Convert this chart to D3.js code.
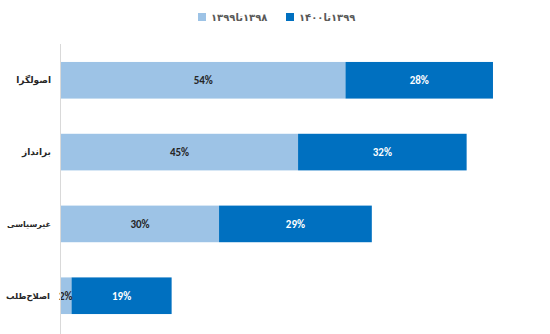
<!DOCTYPE html>
<html>
<head>
<meta charset="utf-8">
<script src="https://cdn.jsdelivr.net/npm/d3@7"></script>
<style>
  html, body { margin: 0; padding: 0; background: #fff; }
  svg { display: block; }
</style>
</head>
<body>
<svg id="chart" width="550" height="334"></svg>
<script>
// Categories (top to bottom) and the two period series, in percent
const categories = ["اصولگرا", "برانداز", "غیرسیاسی", "اصلاح‌طلب"];
const series1398to1399 = [54, 45, 30, 2];
const series1399to1400 = [28, 32, 29, 19];
const seriesNames = ["۱۳۹۸تا۱۳۹۹", "۱۳۹۹تا۱۴۰۰"];
const seriesColors = ["#9DC3E6", "#0070C0"];
const labelColors = ["#262626", "#ffffff"];

const svg = d3.select("#chart");
const W = 550, H = 334;
const margin = { top: 44, right: 20, bottom: 0, left: 61 };

const x = d3.scaleLinear().domain([0, 100]).range([margin.left, margin.left + 526.8]);
const y = d3.scaleBand().domain(categories).range([44, 332]).paddingInner(0.49).paddingOuter(0.25);

const rows = categories.map((c, i) => ({
  cat: c,
  parts: [
    { s: 0, x0: 0, x1: series1398to1399[i], v: series1398to1399[i] },
    { s: 1, x0: series1398to1399[i], x1: series1398to1399[i] + series1399to1400[i], v: series1399to1400[i] }
  ]
}));

const font = "Calibri, Carlito, 'Liberation Sans', 'Noto Sans', sans-serif";

const g = svg.append("g");
const row = g.selectAll("g.row").data(rows).join("g").attr("class", "row");

row.selectAll("rect").data(d => d.parts.map(p => ({ ...p, cat: d.cat }))).join("rect")
  .attr("x", d => x(d.x0))
  .attr("y", d => y(d.cat))
  .attr("width", d => x(d.x1) - x(d.x0))
  .attr("height", y.bandwidth())
  .attr("fill", d => seriesColors[d.s]);

// category axis line
svg.append("line")
  .attr("x1", margin.left - 0.5).attr("x2", margin.left - 0.5)
  .attr("y1", 44).attr("y2", H)
  .attr("stroke", "#d9d9d9").attr("stroke-width", 1);

// category labels, right-aligned just left of the axis
const maxLabelW = 44;
svg.selectAll("text.cat").data(categories).join("text")
  .attr("class", "cat")
  .attr("x", (d, i) => i === 3 ? 50 : 51)
  .attr("y", d => y(d) + y.bandwidth() / 2)
  .attr("dy", "0.35em")
  .attr("text-anchor", "end")
  .attr("font-family", "'DejaVu Sans', sans-serif")
  .attr("font-weight", "bold")
  .attr("font-size", 9)
  .attr("fill", "#262626")
  .text(d => d)
  .each(function () {
    // shrink labels that would run past the left edge
    const w = this.getComputedTextLength();
    if (w > maxLabelW) d3.select(this).attr("font-size", 9 * maxLabelW / w);
  });

// value labels: centred in each segment, a very small segment gets its label at the bar end
row.selectAll("text.val").data(d => d.parts.map(p => ({ ...p, cat: d.cat }))).join("text")
  .attr("class", "val")
  .attr("x", d => d.v < 5 ? x(d.x1) + 1 : (x(d.x0) + x(d.x1)) / 2)
  .attr("y", d => y(d.cat) + y.bandwidth() / 2)
  .attr("dy", "0.35em")
  .attr("text-anchor", d => d.v < 5 ? "end" : "middle")
  .attr("font-family", font)
  .attr("font-weight", "bold")
  .attr("font-size", 11)
  .attr("fill", d => d.v < 5 ? "#262626" : labelColors[d.s])
  .text(d => d.v + "%");

// legend
const legendX = [198, 286];
const lg = svg.selectAll("g.legend").data(seriesNames).join("g").attr("class", "legend")
  .attr("transform", (d, i) => `translate(${legendX[i]},13)`);
lg.append("rect").attr("width", 8).attr("height", 8).attr("fill", (d, i) => seriesColors[i]);
lg.append("text")
  .attr("x", 13).attr("y", 4).attr("dy", "0.35em")
  .attr("direction", "rtl")
  .attr("text-anchor", "end")
  .attr("font-family", "'DejaVu Sans', sans-serif")
  .attr("font-weight", "bold")
  .attr("font-size", 10)
  .attr("fill", "#595959")
  .text(d => d);
</script>
</body>
</html>
